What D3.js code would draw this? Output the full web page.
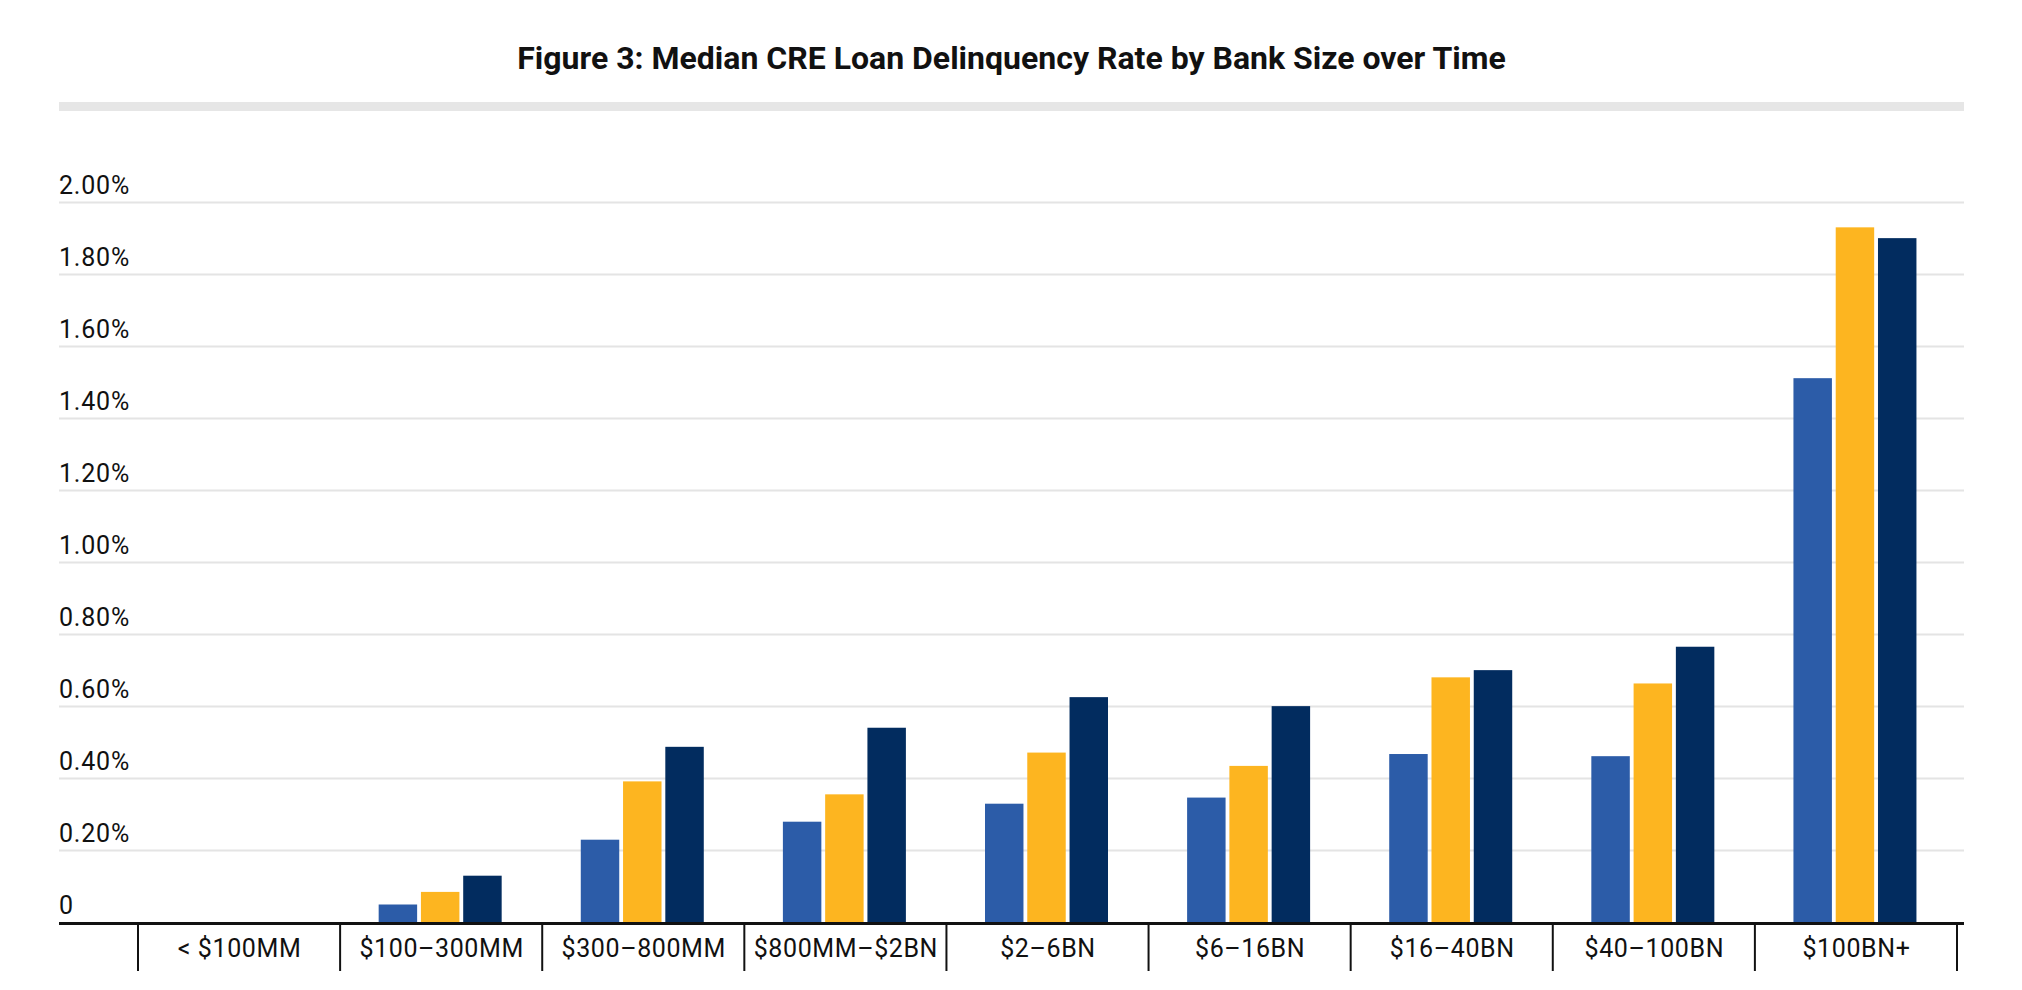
<!DOCTYPE html>
<html>
<head>
<meta charset="utf-8">
<script src="https://cdn.jsdelivr.net/npm/d3@7"></script>
<style>
  body { margin: 0; background: #fff; }
  text { font-family: Roboto, "Noto Sans", sans-serif; fill: #111; }
</style>
</head>
<body>
<div id="svg-container"></div>
<script>
var categories = ["< $100MM", "$100–300MM", "$300–800MM", "$800MM–$2BN", "$2–6BN",
    "$6–16BN", "$16–40BN", "$40–100BN", "$100BN+"]
var seriesNames = ["s1", "s2", "s3"]
var s1Values = [0, 0.05, 0.23, 0.28, 0.33, 0.347, 0.468, 0.462, 1.512]
var s2Values = [0, 0.085, 0.392, 0.356, 0.472, 0.435, 0.681, 0.664, 1.931]
var s3Values = [0, 0.13, 0.488, 0.541, 0.626, 0.601, 0.701, 0.766, 1.901]
var yTicks = [0, 0.2, 0.4, 0.6, 0.8, 1.0, 1.2, 1.4, 1.6, 1.8, 2.0]
var titleText = "Figure 3: Median CRE Loan Delinquency Rate by Bank Size over Time"

var colors = ["#2c5ca8", "#fdb520", "#022c5f"]

var width = 2022, height = 990
var left = 59, right = 1964

var svg = d3.select("div#svg-container")
    .append("svg")
    .attr("width", width)
    .attr("height", height)

svg.append("rect")
    .attr("width", width).attr("height", height).attr("fill", "#fff")

// title + grey strip under it
svg.append("text")
    .attr("x", (left + right) / 2)
    .attr("y", 69)
    .attr("text-anchor", "middle")
    .attr("font-size", "32px")
    .attr("font-weight", "bold")
    .text(titleText)

svg.append("rect")
    .attr("x", left).attr("y", 102)
    .attr("width", right - left).attr("height", 9)
    .attr("fill", "#e6e6e6")

var y = d3.scaleLinear().domain([0, 2]).range([922.5, 202.5])

var x = d3.scaleBand().domain(categories).range([138, 1957]).paddingInner(0).paddingOuter(0)

var xInner = d3.scaleBand().domain(seriesNames).range([0, 123]).paddingInner(0.09)

// gridlines
svg.selectAll("line.grid")
    .data(yTicks.filter(d => d > 0))
    .enter()
    .append("line")
    .attr("class", "grid")
    .attr("x1", left).attr("x2", right)
    .attr("y1", d => y(d)).attr("y2", d => y(d))
    .attr("stroke", "#e4e4e4")
    .attr("stroke-width", 2)

// y labels sit above their gridline
svg.selectAll("text.ylab")
    .data(yTicks)
    .enter()
    .append("text")
    .attr("class", "ylab")
    .attr("x", left)
    .attr("y", d => y(d) - 9)
    .attr("font-size", "25px")
    .attr("letter-spacing", "0.8px")
    .text(d => d === 0 ? "0" : d3.format(".2f")(d) + "%")

var groupOffset = (x.bandwidth() - 123) / 2 - 1

var groups = svg.selectAll("g.group")
    .data(categories)
    .enter()
    .append("g")
    .attr("class", "group")
    .attr("transform", d => "translate(" + (x(d) + groupOffset) + ",0)")

groups.selectAll("rect")
    .data((d, i) => [s1Values[i], s2Values[i], s3Values[i]].map((v, j) => ({ key: seriesNames[j], value: v, color: colors[j] })))
    .enter()
    .append("rect")
    .attr("x", d => xInner(d.key))
    .attr("width", xInner.bandwidth())
    .attr("y", d => y(d.value))
    .attr("height", d => y(0) - y(d.value))
    .attr("fill", d => d.color)

// axis line and category dividers
svg.append("line")
    .attr("x1", left).attr("x2", right)
    .attr("y1", 923.5).attr("y2", 923.5)
    .attr("stroke", "#111")
    .attr("stroke-width", 3)

var dividers = categories.map(d => x(d)).concat([x.range()[1]])

svg.selectAll("line.divider")
    .data(dividers)
    .enter()
    .append("line")
    .attr("class", "divider")
    .attr("x1", d => d).attr("x2", d => d)
    .attr("y1", 923).attr("y2", 971)
    .attr("stroke", "#111")
    .attr("stroke-width", 2)

svg.selectAll("text.xlab")
    .data(categories)
    .enter()
    .append("text")
    .attr("class", "xlab")
    .attr("x", d => x(d) + x.bandwidth() / 2 + 0.5)
    .attr("y", 957)
    .attr("text-anchor", "middle")
    .attr("font-size", "25px")
    .attr("letter-spacing", "0.6px")
    .text(d => d)
</script>
</body>
</html>
